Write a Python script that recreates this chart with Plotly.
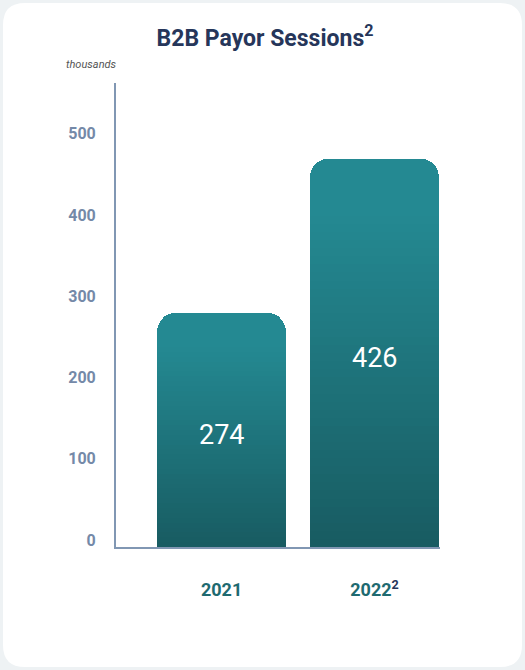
import plotly.graph_objects as go

# ---- data ----
categories = ["2021", "2022"]
tick_labels = ["2021", "2022<span style='color:#26365a'><sup>2</sup></span>"]
bar_heights = [288, 477]          # bar heights as drawn against the axis (thousands)
bar_labels = ["274", "426"]        # values printed inside the bars
y_ticks = [0, 100, 200, 300, 400, 500]

# ---- style ----
W, H = 525, 670
ML, MR, MT, MB = 116, 85, 83, 123
PW, PH = W - ML - MR, H - MT - MB
TOP = (36, 137, 146)      # lighter teal at bar top
BOT = (24, 92, 98)        # darker teal at bar bottom
N_SEG = 48

def lerp(a, b, t):
    return tuple(round(a[i] + (b[i] - a[i]) * t) for i in range(3))

fig = go.Figure()
for i in range(N_SEG):
    t = i / (N_SEG - 1)          # 0 bottom -> 1 top
    c = lerp(BOT, TOP, min(1.0, t * 1.15))
    fig.add_trace(go.Bar(
        x=categories,
        y=[h / N_SEG for h in bar_heights],
        width=0.843,
        marker=dict(color="rgb(%d,%d,%d)" % c, line=dict(width=0)),
        hoverinfo="skip",
        showlegend=False,
    ))

# value labels inside bars (category index positions)
for idx, (h, lab) in enumerate(zip(bar_heights, bar_labels)):
    fig.add_annotation(x=idx, y=h / 2, xref="x", yref="y", text=lab,
                       showarrow=False, yshift=-5,
                       font=dict(family="Roboto", size=27, color="white"))

# card background (pixel -> paper helper)
def px(x):
    return (x - ML) / PW

def py(y):
    return (H - MB - y) / PH

x0, y0, x1, y1, r = 3, 3, 522, 667, 22
path = (f"M {px(x0 + r)},{py(y0)} L {px(x1 - r)},{py(y0)} "
        f"Q {px(x1)},{py(y0)} {px(x1)},{py(y0 + r)} L {px(x1)},{py(y1 - r)} "
        f"Q {px(x1)},{py(y1)} {px(x1 - r)},{py(y1)} L {px(x0 + r)},{py(y1)} "
        f"Q {px(x0)},{py(y1)} {px(x0)},{py(y1 - r)} L {px(x0)},{py(y0 + r)} "
        f"Q {px(x0)},{py(y0)} {px(x0 + r)},{py(y0)} Z")
fig.add_shape(type="path", path=path, xref="paper", yref="paper",
              fillcolor="white", line=dict(width=0), layer="below")

fig.add_annotation(text="thousands", xref="paper", yref="paper",
                   x=px(91), y=py(64), showarrow=False,
                   font=dict(family="Roboto", size=11, color="#555555", style="italic"),
                   xanchor="center", yanchor="middle")

fig.update_layout(
    width=W, height=H,
    font=dict(family="Roboto"),
    margin=dict(l=ML, r=MR, t=MT, b=MB, pad=0),
    paper_bgcolor="#eef2f4",
    plot_bgcolor="rgba(0,0,0,0)",
    barmode="stack",
    bargap=0,
    barcornerradius=18,
    title=dict(text="B2B Payor Sessions<sup>2</sup>", x=265 / W, xanchor="center",
               y=1 - 38 / H, yanchor="middle",
               font=dict(family="Roboto", size=23, color="#26365a", weight="bold")),
    xaxis=dict(type="category", range=[-0.69, 1.428], tickvals=categories,
               ticktext=tick_labels, showgrid=False, zeroline=False,
               showline=True, linecolor="#8197b3", linewidth=1.5,
               ticks="", ticklabelstandoff=26,
               tickfont=dict(family="Roboto", size=18, color="#1e6a70", weight="bold"),
               fixedrange=True),
    yaxis=dict(range=[0, 571], tickvals=y_ticks, showgrid=False, zeroline=False,
               showline=True, linecolor="#8197b3", linewidth=2,
               ticks="", ticklabelstandoff=15, ticklabelshift=-7,
               tickfont=dict(family="Roboto", size=16, color="#7489a8", weight="bold"),
               fixedrange=True),
)

fig.write_html("out.html")
